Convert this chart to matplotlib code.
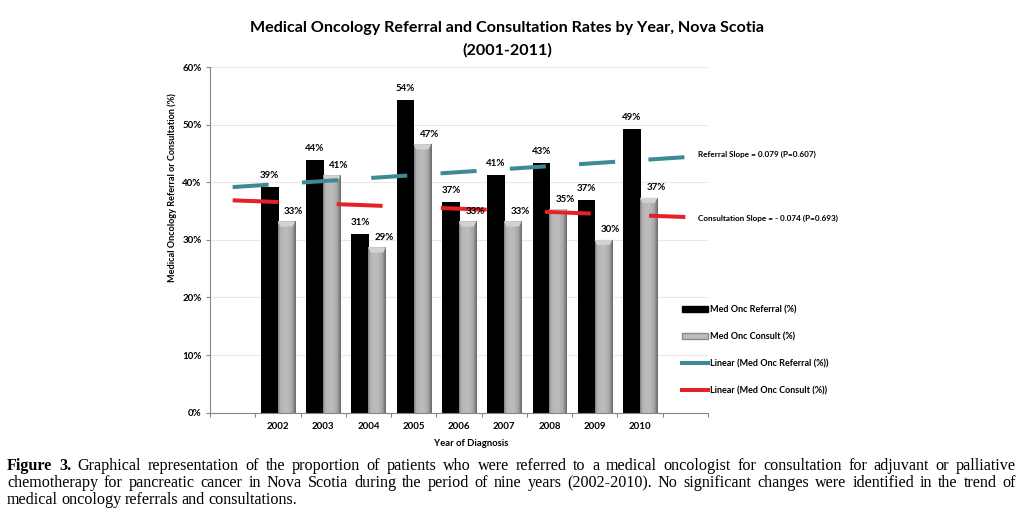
import numpy as np
import matplotlib
matplotlib.use("Agg")
import matplotlib.pyplot as plt
from matplotlib.colors import LinearSegmentedColormap
from matplotlib.patches import Patch, Polygon
from matplotlib.lines import Line2D

# data
years = ["2002", "2003", "2004", "2005", "2006", "2007", "2008", "2009", "2010"]
referral = [39.2, 43.9, 31.0, 54.2, 36.6, 41.3, 43.4, 37.0, 49.2]
consult = [33.2, 41.2, 28.7, 46.6, 33.2, 33.2, 35.3, 30.0, 37.3]
legend_labels = ["Med Onc Referral (%)", "Med Onc Consult (%)",
                 "Linear (Med Onc Referral (%))", "Linear (Med Onc Consult (%))"]
ref_slope_txt = "Referral Slope = 0.079 (P=0.607)"
con_slope_txt = "Consultation Slope = - 0.074 (P=0.693)"
caption = [
    [("Figure", "bold"), ("3.", "bold")] + [(w, "normal") for w in
     "Graphical representation of the proportion of patients who were referred to a medical oncologist for consultation for adjuvant or palliative".split()],
    [(w, "normal") for w in
     "chemotherapy for pancreatic cancer in Nova Scotia during the period of nine years (2002-2010).  No significant changes were identified in the trend of".split()],
    [(w, "normal") for w in "medical oncology referrals and consultations.".split()],
]

teal = "#3e8a94"
red = "#e42228"
axis_col = "#868686"

plt.rcParams['font.family'] = ['Lato', 'DejaVu Sans']
plt.rcParams['lines.scale_dashes'] = False

W, H = 1028, 519
fig = plt.figure(figsize=(W / 100, H / 100), dpi=100)
ax = fig.add_axes([210 / W, 1 - 412.7 / H, 498 / W, (412.7 - 67) / H])

x = np.arange(1, len(years) + 1)
bw = 0.39
b1 = ax.bar(x - 0.18, referral, bw, color="black", zorder=2)
b2 = ax.bar(x + 0.19, consult, bw, color="#b3b3b3", zorder=2)

# shaded "3d" look for the consult bars
cmap = LinearSegmentedColormap.from_list("g", [(0, "#7c7c7c"), (0.12, "#b4b4b4"), (0.5, "#bebebe"),
                                               (0.78, "#aaaaaa"), (0.9, "#888888"), (1, "#666666")])
grad = np.linspace(0, 1, 64).reshape(1, -1)
for r in b2:
    x0, w_, h = r.get_x(), r.get_width(), r.get_height()
    im = ax.imshow(grad, cmap=cmap, extent=(x0, x0 + w_, 0, h), aspect="auto",
                   zorder=2.1, interpolation="bicubic")
    im.set_clip_path(r)
    t, d = 0.9, w_ * 0.15
    ax.add_patch(Polygon([(x0, h), (x0 + w_, h), (x0 + w_ - d, h - t), (x0 + d, h - t)],
                         closed=True, fc="#d2d2d2", ec="none", zorder=2.2))

# linear trend lines (forecast one period each side)
xt = np.array([0, 10])
pr = np.polyfit(x, referral, 1)
pc = np.polyfit(x, consult, 1)
ax.plot(xt, np.polyval(pr, xt), color=teal, lw=2.9, dashes=(26, 24), dash_capstyle="butt",
        zorder=3, clip_on=False)
ax.plot(xt, np.polyval(pc, xt), color=red, lw=2.9, dashes=(33, 42), dash_capstyle="butt",
        zorder=3, clip_on=False)

# data labels
for xi, v in zip(x, referral):
    ax.annotate(f"{v:.0f}%", (xi - 0.18, v), xytext=(0, 5), textcoords="offset points",
                ha="center", va="bottom", fontsize=7, fontweight="bold", zorder=4)
for xi, v in zip(x, consult):
    ax.annotate(f"{v:.0f}%", (xi + 0.35, v), xytext=(0, 4), textcoords="offset points",
                ha="center", va="bottom", fontsize=7, fontweight="bold", zorder=4)

ax.set_xlim(-0.5, 10.5)
ax.set_ylim(0, 60)
ax.set_xticks(np.arange(-0.5, 11, 1))
ax.set_xticklabels([])
ax.set_xticks(x, minor=True)
ax.set_xticklabels(years, minor=True, fontsize=7, fontweight="bold")
ax.tick_params(axis="x", which="minor", length=0, pad=7)
ax.tick_params(axis="x", which="major", length=3, color=axis_col)
ax.set_yticks(range(0, 61, 10))
ax.yaxis.set_major_formatter(lambda v, p: f"{v:.0f}%")
ax.tick_params(axis="y", length=3, color=axis_col, pad=3, labelsize=7)
for lab in ax.get_yticklabels():
    lab.set_fontweight("bold")
ax.yaxis.grid(True, color="#e8e8e8", lw=0.8)
ax.set_axisbelow(True)
for s in ["top", "right"]:
    ax.spines[s].set_visible(False)
for s in ["left", "bottom"]:
    ax.spines[s].set_color(axis_col)

fig.text(471 / W, 1 - 444 / H, "Year of Diagnosis", ha="center", va="center",
         fontsize=6.8, fontweight="bold")
fig.text(172 / W, 1 - 188 / H, "Medical Oncology Referral or Consultation (%)", rotation=90,
         ha="center", va="center", fontsize=6.6, fontweight="bold")

fig.text(507 / W, 1 - 28 / H, "Medical Oncology Referral and Consultation Rates by Year, Nova Scotia",
         ha="center", va="center", fontsize=11.6, fontweight="bold")
fig.text(507 / W, 1 - 50 / H, "(2001-2011)", ha="center", va="center", fontsize=11.6, fontweight="bold")

fig.text(698 / W, 1 - 154 / H, ref_slope_txt, ha="left", va="center", fontsize=5.9, fontweight="bold")
fig.text(698 / W, 1 - 218 / H, con_slope_txt, ha="left", va="center", fontsize=5.9, fontweight="bold")

handles = [Patch(fc="black", ec="black"), Patch(fc="#bcbcbc", ec="#8a8a8a"),
           Line2D([], [], color=teal, lw=2.9), Line2D([], [], color=red, lw=2.9)]
ax.legend(handles, legend_labels, loc="upper left", bbox_to_anchor=(682 / W, 1 - 305 / H),
          bbox_transform=fig.transFigure, frameon=False, prop=dict(size=6.5, weight="bold"),
          handlelength=2.9, handleheight=0.7, handletextpad=0.25, labelspacing=2.0,
          borderpad=0, borderaxespad=0)

# justified caption below the chart
renderer = fig.canvas.get_renderer()
cap_font = dict(family="Liberation Serif", size=11.6)
x_left, x_right = 7, 1016
for i, (line, yb) in enumerate(zip(caption, [470, 487, 504])):
    texts = [fig.text(0, 1 - yb / H, w, va="baseline", ha="left", fontweight=wt, **cap_font)
             for w, wt in line]
    widths = [t.get_window_extent(renderer).width for t in texts]
    if i < len(caption) - 1:
        gap = (x_right - x_left - sum(widths)) / (len(texts) - 1)
    else:
        gap = 3.2
    pos = x_left
    for t, wd in zip(texts, widths):
        t.set_x(pos / W)
        pos += wd + gap

fig.savefig("out.png", dpi=100, facecolor="white")
